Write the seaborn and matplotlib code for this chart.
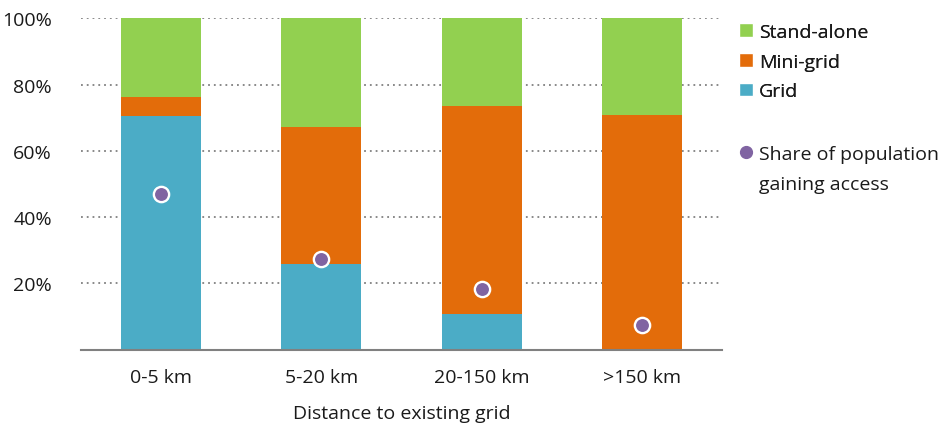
import matplotlib
matplotlib.use("Agg")
import matplotlib.pyplot as plt
from matplotlib.patches import Patch
from matplotlib.lines import Line2D
import pandas as pd
import seaborn as sns

# data
categories = ["0-5 km", "5-20 km", "20-150 km", ">150 km"]
grid = [70.4, 25.9, 10.8, 0.0]
mini_grid = [5.9, 41.4, 62.6, 70.9]
stand_alone = [23.7, 32.7, 26.6, 29.1]
share_gaining_access = [47.0, 27.3, 18.3, 7.4]

colors = {"Stand-alone": "#92D050", "Mini-grid": "#E36C0A", "Grid": "#4BACC6"}
dot_color = "#8064A2"

df = pd.DataFrame({
    "distance": categories,
    "Grid": grid,
    "Mini-grid": mini_grid,
    "Stand-alone": stand_alone,
    "share": share_gaining_access,
})
df["cum_grid"] = df["Grid"]
df["cum_mini"] = df["cum_grid"] + df["Mini-grid"]
df["cum_stand"] = df["cum_mini"] + df["Stand-alone"]

sns.set_style("white")
plt.rcParams["font.family"] = ["Open Sans", "DejaVu Sans"]

fig = plt.figure(figsize=(9.48, 4.27), dpi=100)
ax = fig.add_axes([0.0854, 0.1787, 0.6762, 0.7763])

# stacked bars: draw cumulative totals from top layer down
for col, name in [("cum_stand", "Stand-alone"), ("cum_mini", "Mini-grid"), ("cum_grid", "Grid")]:
    sns.barplot(data=df, x="distance", y=col, order=categories, color=colors[name],
                width=0.5, saturation=1, errorbar=None, linewidth=0, ax=ax, zorder=2)

sns.stripplot(data=df, x="distance", y="share", order=categories, jitter=False,
              color=dot_color, edgecolor="white", linewidth=1.7, size=11, ax=ax, zorder=4)

ax.set_xlim(-0.5, 3.5)
ax.set_ylim(0, 100)
ax.set_yticks([20, 40, 60, 80, 100])
ax.set_yticklabels(["20%", "40%", "60%", "80%", "100%"])
ax.yaxis.grid(True, linestyle=(0, (1, 2.2)), color="#808080", linewidth=1.3)
ax.set_axisbelow(True)
ax.tick_params(axis="both", length=0, labelsize=14, colors="#1a1a1a")
ax.tick_params(axis="y", pad=21)
ax.tick_params(axis="x", pad=13)
for side in ["top", "right", "left"]:
    ax.spines[side].set_visible(False)
ax.spines["bottom"].set_color("#808080")
ax.spines["bottom"].set_linewidth(1.5)
ax.spines["bottom"].set_zorder(5)
ax.set_ylabel("")
ax.set_xlabel("Distance to existing grid", fontsize=14, labelpad=13, color="#1a1a1a")

bar_handles = [
    Patch(facecolor=colors["Stand-alone"], label="Stand-alone"),
    Patch(facecolor=colors["Mini-grid"], label="Mini-grid"),
    Patch(facecolor=colors["Grid"], label="Grid"),
]
leg1 = fig.legend(handles=bar_handles, loc="upper left", bbox_to_anchor=(0.761, 0.985),
                  frameon=False, fontsize=14, handlelength=0.72, handleheight=0.72,
                  handletextpad=0.3, labelspacing=0.6, labelcolor="#1a1a1a")
fig.add_artist(leg1)

dot_handles = [
    Line2D([], [], marker="o", linestyle="none", color=dot_color, markersize=8.5,
           label="Share of population"),
    Line2D([], [], linestyle="none", label="gaining access"),
]
fig.legend(handles=dot_handles, loc="upper left", bbox_to_anchor=(0.761, 0.699),
           frameon=False, fontsize=14, handlelength=0.72, handleheight=0.72,
           handletextpad=0.3, labelspacing=0.6, labelcolor="#1a1a1a")

fig.savefig("out.png", dpi=100)
